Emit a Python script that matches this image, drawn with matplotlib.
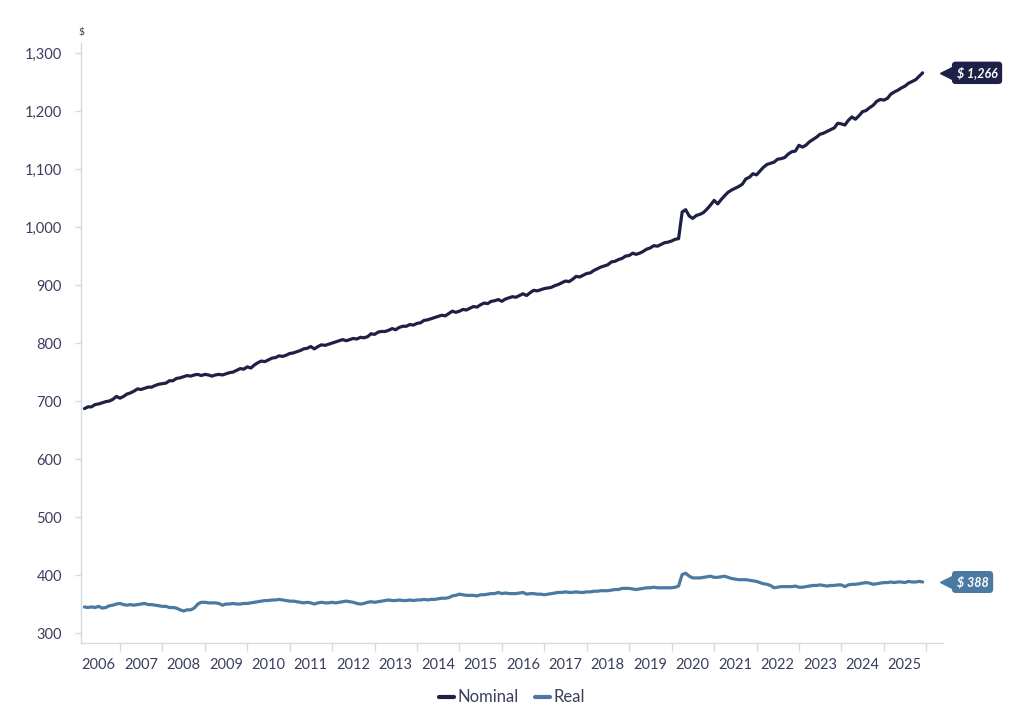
import matplotlib
matplotlib.use("Agg")
import matplotlib.pyplot as plt
import matplotlib.dates as mdates
import matplotlib.transforms as mtransforms
import pandas as pd

# ---- data (monthly, Mar 2006 - Dec 2025) ----
start_month = "2006-03-01"

nominal_by_year = {
    2006: [687, 690, 690, 694, 695, 697, 699, 700, 703, 708],
    2007: [705, 708, 712, 714, 717, 721, 720, 722, 724, 724, 727, 729],
    2008: [730, 731, 735, 735, 739, 740, 742, 744, 743, 745, 746, 744],
    2009: [746, 745, 743, 745, 746, 745, 747, 749, 750, 753, 756, 755],
    2010: [759, 757, 762, 766, 769, 768, 771, 774, 775, 778, 777, 779],
    2011: [782, 783, 785, 787, 790, 791, 794, 790, 794, 797, 796, 798],
    2012: [800, 802, 804, 806, 804, 806, 808, 807, 810, 809, 811, 816],
    2013: [815, 819, 820, 820, 822, 825, 823, 827, 829, 829, 832, 831],
    2014: [834, 835, 839, 840, 842, 844, 846, 848, 847, 851, 855, 853],
    2015: [855, 858, 857, 860, 863, 862, 866, 869, 868, 872, 873, 875],
    2016: [872, 876, 878, 880, 879, 882, 885, 882, 887, 891, 890, 892],
    2017: [894, 895, 896, 899, 901, 904, 907, 906, 910, 915, 914, 917],
    2018: [920, 921, 925, 928, 931, 933, 935, 940, 941, 944, 946, 950],
    2019: [951, 955, 953, 955, 958, 962, 964, 968, 967, 970, 973, 974],
    2020: [976, 979, 980, 1026, 1030, 1019, 1015, 1020, 1022, 1025, 1031, 1038],
    2021: [1046, 1040, 1047, 1054, 1060, 1064, 1067, 1070, 1074, 1083, 1086, 1092],
    2022: [1090, 1097, 1103, 1108, 1110, 1112, 1117, 1118, 1120, 1126, 1130, 1131],
    2023: [1141, 1138, 1141, 1147, 1151, 1155, 1160, 1162, 1165, 1168, 1171, 1179],
    2024: [1178, 1176, 1184, 1190, 1186, 1192, 1199, 1201, 1206, 1210, 1217, 1220],
    2025: [1219, 1222, 1229, 1233, 1236, 1240, 1243, 1248, 1251, 1254, 1260, 1266],
}

real_by_year = {
    2006: [345, 344, 345, 344, 346, 343, 344, 347, 348, 350],
    2007: [351, 349, 348, 349, 348, 349, 350, 351, 349, 349, 348, 347],
    2008: [346, 346, 344, 344, 343, 340, 338, 340, 340, 343, 350, 353],
    2009: [353, 352, 352, 352, 351, 348, 350, 350, 351, 350, 350, 351],
    2010: [351, 352, 353, 354, 355, 356, 356, 357, 357, 358, 357, 356],
    2011: [355, 355, 354, 353, 352, 353, 352, 350, 352, 353, 352, 352],
    2012: [353, 352, 353, 354, 355, 354, 353, 351, 350, 351, 353, 354],
    2013: [353, 354, 355, 356, 357, 356, 356, 357, 356, 356, 357, 356],
    2014: [357, 357, 358, 357, 358, 358, 359, 360, 360, 361, 364, 365],
    2015: [367, 366, 365, 365, 365, 364, 366, 366, 367, 368, 368, 370],
    2016: [368, 369, 368, 368, 368, 369, 370, 367, 368, 368, 367, 367],
    2017: [366, 367, 368, 369, 370, 370, 371, 370, 370, 371, 370, 370],
    2018: [371, 371, 372, 372, 373, 373, 373, 374, 375, 375, 377, 377],
    2019: [377, 376, 375, 376, 377, 378, 378, 379, 378, 378, 378, 378],
    2020: [378, 379, 381, 401, 403, 398, 395, 395, 395, 396, 397, 398],
    2021: [396, 396, 397, 398, 396, 394, 393, 392, 392, 392, 391, 390],
    2022: [389, 387, 385, 384, 382, 378, 379, 380, 380, 380, 380, 381],
    2023: [379, 379, 380, 381, 382, 382, 383, 382, 381, 382, 382, 383],
    2024: [383, 380, 383, 384, 384, 385, 386, 387, 386, 384, 385, 386],
    2025: [387, 387, 388, 387, 388, 388, 387, 389, 388, 388, 389, 388],
}

years = list(range(2006, 2026))
nominal = [v for y in years for v in nominal_by_year[y]]
real = [v for y in years for v in real_by_year[y]]
dates = pd.date_range(start_month, periods=len(nominal), freq="MS")

series_names = ["Nominal", "Real"]
series_colors = ["#1f2046", "#4a7aa1"]
end_labels = ["$ 1,266", "$ 388"]

yticks = list(range(300, 1301, 100))

# ---- figure ----
plt.rcParams["font.family"] = ["Lato", "DejaVu Sans"]
fig = plt.figure(figsize=(10.24, 7.19), dpi=100)
ax = fig.add_axes([0.0795, 0.1057, 0.8415, 0.8343])

text_col = "#3b3f5e"
grid_col = "#d5d9e0"

for vals, name, col in zip([nominal, real], series_names, series_colors):
    ax.plot(dates, vals, color=col, lw=2.3, label=name, solid_capstyle="round",
            solid_joinstyle="round")

ax.set_ylim(282.8, 1317.2)
ax.set_xlim(pd.Timestamp("2006-02-03"), pd.Timestamp("2026-05-26"))

ax.set_yticks(yticks)
ax.set_yticklabels([f"{v:,}" for v in yticks])

# major ticks at year boundaries, labels at mid-year
ax.xaxis.set_major_locator(mdates.YearLocator(1, month=1, day=1))
ax.xaxis.set_major_formatter(plt.NullFormatter())
ax.xaxis.set_minor_locator(mdates.YearLocator(1, month=7, day=1))
ax.xaxis.set_minor_formatter(mdates.DateFormatter("%Y"))

ax.tick_params(axis="x", which="major", length=5.5, width=1, color=grid_col, direction="out")
ax.tick_params(axis="x", which="minor", length=0, pad=11, labelsize=10.5, labelcolor=text_col)
ax.tick_params(axis="y", which="major", length=4, width=1, color=grid_col, pad=10,
               labelsize=10.5, labelcolor=text_col)

for s in ["top", "right"]:
    ax.spines[s].set_visible(False)
for s in ["left", "bottom"]:
    ax.spines[s].set_color(grid_col)
    ax.spines[s].set_linewidth(1)

# "$" unit label
ax.text(0.0, 1.01, "$", transform=ax.transAxes, ha="center", va="bottom",
        fontsize=7.5, color=text_col)

# end-of-line labels
for vals, col, lab in zip([nominal, real], series_colors, end_labels):
    x_end = dates[-1]
    y_end = vals[-1]
    off_tri = mtransforms.ScaledTranslation(23 / 100, 0, fig.dpi_scale_trans)
    ax.plot([x_end], [y_end], marker="<", markersize=9, color=col,
            transform=ax.transData + off_tri, clip_on=False)
    off_txt = mtransforms.ScaledTranslation(34 / 100, 0, fig.dpi_scale_trans)
    ax.text(x_end, y_end, lab, transform=ax.transData + off_txt, ha="left", va="center",
            fontsize=9, fontweight="bold", fontstyle="italic", color="white", clip_on=False,
            bbox=dict(boxstyle="round,pad=0.38,rounding_size=0.3", fc=col, ec="none"))

leg = fig.legend(loc="center", bbox_to_anchor=(0.5, 0.030), ncol=2, frameon=False,
                 fontsize=12, handlelength=0.9, handletextpad=0.2, columnspacing=1.0)
for t in leg.get_texts():
    t.set_color(text_col)
for h in leg.get_lines():
    h.set_linewidth(3)

fig.savefig("out.png", dpi=100)
